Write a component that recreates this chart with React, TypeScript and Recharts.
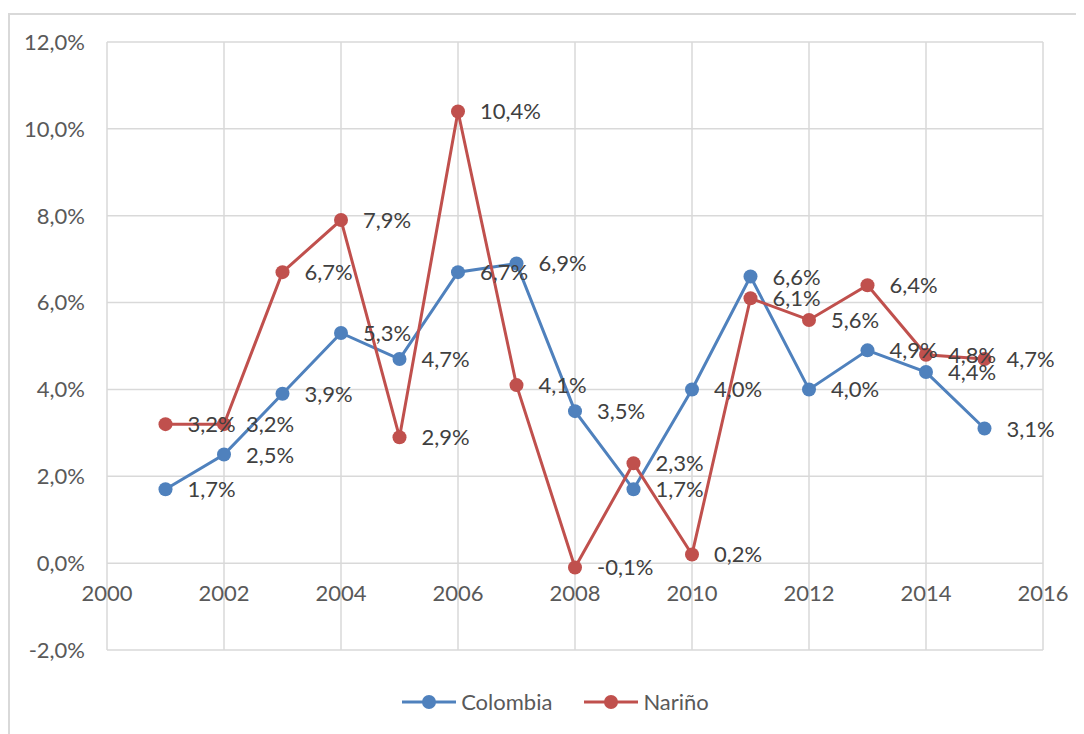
import { LineChart, Line, XAxis, YAxis, CartesianGrid, Legend, LabelList } from 'recharts'

const years = [2001, 2002, 2003, 2004, 2005, 2006, 2007, 2008, 2009, 2010, 2011, 2012, 2013, 2014, 2015]
const colombia = [1.7, 2.5, 3.9, 5.3, 4.7, 6.7, 6.9, 3.5, 1.7, 4.0, 6.6, 4.0, 4.9, 4.4, 3.1]
const narino = [3.2, 3.2, 6.7, 7.9, 2.9, 10.4, 4.1, -0.1, 2.3, 0.2, 6.1, 5.6, 6.4, 4.8, 4.7]
const xTicks = [2000, 2002, 2004, 2006, 2008, 2010, 2012, 2014, 2016]
const yTicks = [-2, 0, 2, 4, 6, 8, 10, 12]

const BLUE = '#4f81bd'
const RED = '#c0504d'
const FONT = 'Lato, "Open Sans", sans-serif'
const FS = 22
// x labels sit on the 0% line, not at the bottom of the plot
const ZERO_SHIFT = 87

const data = years.map((y, i) => ({ year: y, colombia: colombia[i], narino: narino[i] }))

const pct = (v: number) => v.toFixed(1).replace('.', ',') + '%'

const XTick = (props: any) => {
  const { x, y, payload } = props
  return (
    <text x={x} y={y - ZERO_SHIFT} dy={30} textAnchor="middle" fill="#595959" fontSize={FS} fontFamily={FONT}>
      {payload.value}
    </text>
  )
}

const PointLabel = (props: any) => {
  const { x, y, value } = props
  return (
    <text x={x + 22} y={y} dy={8} fill="#404040" fontSize={FS} fontFamily={FONT}>
      {pct(value)}
    </text>
  )
}

const LegendContent = (props: any) => {
  const { payload } = props
  return (
    <div style={{ display: 'flex', justifyContent: 'center', gap: 32, paddingLeft: 58 }}>
      {payload.map((p: any) => (
        <div key={p.value} style={{ display: 'flex', alignItems: 'center', gap: 5 }}>
          <svg width={54} height={16}>
            <line x1={0} y1={8} x2={54} y2={8} stroke={p.color} strokeWidth={3} />
            <circle cx={27} cy={8} r={7} fill={p.color} />
          </svg>
          <span style={{ color: '#595959', fontSize: FS, fontFamily: FONT }}>{p.value}</span>
        </div>
      ))}
    </div>
  )
}

export default function App() {
  return (
    <div style={{ paddingTop: 5 }}>
      <div
        style={{
          width: 1074,
          height: 719,
          borderTop: '2px solid #d9d9d9',
          borderLeft: '2px solid #d9d9d9',
          fontFamily: FONT,
        }}
      >
        <LineChart width={1074} height={719} data={data} margin={{ top: 27, right: 41, left: 0, bottom: 56 }}>
          <CartesianGrid stroke="#d9d9d9" strokeWidth={1.5} />
          <XAxis
            dataKey="year"
            type="number"
            domain={[2000, 2016]}
            ticks={xTicks}
            axisLine={false}
            tickLine={false}
            height={1}
            tick={<XTick />}
          />
          <YAxis
            domain={[-2, 12]}
            ticks={yTicks}
            width={97}
            axisLine={false}
            tickLine={false}
            tickMargin={16}
            tickFormatter={pct}
            tick={{ fill: '#595959', fontSize: FS, fontFamily: FONT }}
          />
          <Legend verticalAlign="bottom" wrapperStyle={{ bottom: 19 }} content={<LegendContent />} />
          <Line
            name="Colombia"
            dataKey="colombia"
            stroke={BLUE}
            strokeWidth={3}
            dot={{ r: 7, fill: BLUE, stroke: BLUE, strokeWidth: 0 }}
            isAnimationActive={false}
          >
            <LabelList dataKey="colombia" content={<PointLabel />} />
          </Line>
          <Line
            name="Nariño"
            dataKey="narino"
            stroke={RED}
            strokeWidth={3}
            dot={{ r: 7, fill: RED, stroke: RED, strokeWidth: 0 }}
            isAnimationActive={false}
          >
            <LabelList dataKey="narino" content={<PointLabel />} />
          </Line>
        </LineChart>
      </div>
    </div>
  )
}
